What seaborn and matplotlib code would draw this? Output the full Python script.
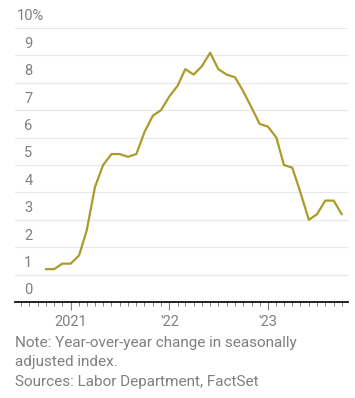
import pandas as pd
import matplotlib
matplotlib.use("Agg")
import matplotlib.pyplot as plt
import matplotlib.dates as mdates
import seaborn as sns

# monthly year-over-year CPI change, Oct 2020 - Oct 2023
months = pd.date_range("2020-10-01", periods=37, freq="MS")
cpi_yoy = [1.2, 1.2, 1.4, 1.4, 1.7, 2.6, 4.2, 5.0, 5.4, 5.4, 5.3, 5.4,
           6.2, 6.8, 7.0, 7.5, 7.9, 8.5, 8.3, 8.6, 9.1, 8.5, 8.3, 8.2,
           7.7, 7.1, 6.5, 6.4, 6.0, 5.0, 4.9, 4.0, 3.0, 3.2, 3.7, 3.7, 3.2]
y_ticks = [0, 1, 2, 3, 4, 5, 6, 7, 8, 9, 10]
year_labels = {2021: "2021", 2022: "'22", 2023: "'23"}

df = pd.DataFrame({"month": months, "cpi": cpi_yoy})

sns.set_style("white")
plt.rcParams["font.family"] = ["Roboto", "DejaVu Sans"]
grey = "#7f7f7f"

W, H = 355, 398
fig = plt.figure(figsize=(W / 100, H / 100), dpi=100)
ax = fig.add_axes([15 / W, (H - 302) / H, (348 - 15) / W, 274 / H])

for v in y_ticks[1:]:
    ax.axhline(v, color="#e8e8e8", lw=0.9, zorder=0)

sns.lineplot(data=df, x="month", y="cpi", ax=ax, color="#ab9b2b", lw=1.6)

ax.set_ylim(0, 10)
ax.set_xlim(pd.Timestamp("2020-06-09"), pd.Timestamp("2023-10-24"))

for s in ["top", "right", "left"]:
    ax.spines[s].set_visible(False)
ax.spines["bottom"].set_color("#111111")
ax.spines["bottom"].set_linewidth(1.3)

ax.set_yticks([])
ax.set_xlabel("")
ax.set_ylabel("")

# y labels sit above the gridlines; the top one carries the % sign
lab_tf = ax.get_yaxis_transform()
for v in y_ticks[:-1]:
    ax.text(17.5 / 333, v + 0.17, str(v), transform=lab_tf, ha="right",
            va="bottom", fontsize=10.5, color=grey)
ax.text(1.5 / 333, y_ticks[-1] + 0.17, f"{y_ticks[-1]}%", transform=lab_tf,
        ha="left", va="bottom", fontsize=10.5, color=grey)

ax.xaxis.set_major_locator(mdates.YearLocator())
ax.xaxis.set_minor_locator(mdates.MonthLocator())
ax.xaxis.set_major_formatter(
    matplotlib.ticker.FuncFormatter(lambda x, p: year_labels.get(mdates.num2date(x).year, "")))
ax.tick_params(axis="x", which="major", length=6, width=0.8, color=grey,
               labelsize=10.5, labelcolor=grey, pad=3)
ax.tick_params(axis="x", which="minor", length=3, width=0.7, color=grey)
ax.tick_params(axis="x", which="both", bottom=True, direction="out")

note_kw = dict(fontsize=11, color=grey, ha="left", va="center")
fig.text(15 / W, 1 - 343 / H, "Note: Year-over-year change in seasonally", **note_kw)
fig.text(15 / W, 1 - 362 / H, "adjusted index.", **note_kw)
fig.text(15 / W, 1 - 382 / H, "Sources: Labor Department, FactSet", **note_kw)

fig.savefig("out.png", dpi=100)
